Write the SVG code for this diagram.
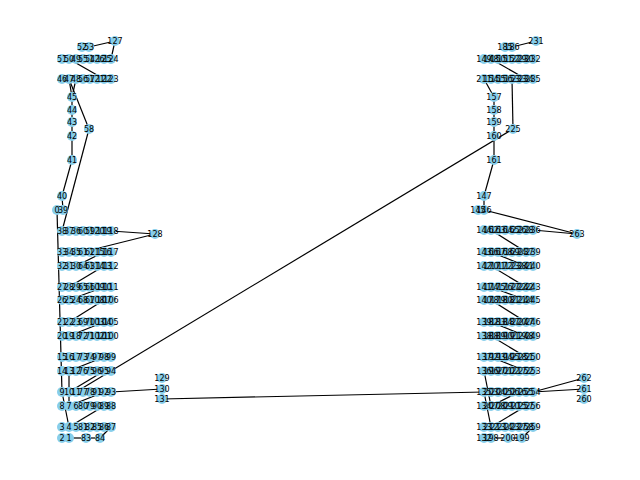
<svg xmlns="http://www.w3.org/2000/svg" width="640" height="480" viewBox="0 0 640 480">
<style>
#nodes circle{fill:#87ceeb;stroke:none}
#edges line{stroke:#000;stroke-width:1.2}
#labels text{font-family:"DejaVu Sans",sans-serif;font-size:8px;fill:#000;text-anchor:middle;dominant-baseline:central}
</style>
<rect width="640" height="480" fill="#fff"/>
<g id="edges">
<line x1="115" y1="41" x2="89" y2="47"/><line x1="115" y1="41" x2="111" y2="59"/>
<line x1="69" y1="59" x2="104" y2="79"/><line x1="72" y1="97" x2="69" y2="79"/><line x1="72" y1="97" x2="76" y2="79"/>
<line x1="89" y1="129" x2="69" y2="79"/><line x1="72" y1="97" x2="72" y2="110"/><line x1="72" y1="110" x2="72" y2="122"/>
<line x1="72" y1="122" x2="72" y2="136"/><line x1="72" y1="136" x2="72" y2="160"/><line x1="72" y1="160" x2="62" y2="196"/>
<line x1="62" y1="196" x2="63" y2="210"/><line x1="89" y1="129" x2="62" y2="231"/><line x1="57" y1="210" x2="62" y2="392"/>
<line x1="155" y1="234" x2="111" y2="231"/><line x1="155" y1="234" x2="83" y2="252"/>
<line x1="76" y1="266" x2="104" y2="252"/><line x1="69" y1="287" x2="104" y2="266"/><line x1="69" y1="300" x2="104" y2="287"/>
<line x1="69" y1="322" x2="104" y2="300"/><line x1="69" y1="336" x2="104" y2="322"/><line x1="69" y1="371" x2="104" y2="357"/>
<line x1="69" y1="392" x2="104" y2="371"/><line x1="69" y1="406" x2="104" y2="392"/><line x1="69" y1="427" x2="104" y2="406"/>
<line x1="111" y1="392" x2="162" y2="389"/><line x1="162" y1="399" x2="484" y2="392"/><line x1="513" y1="129" x2="76" y2="392"/>
<line x1="69" y1="371" x2="69" y2="406"/><line x1="62" y1="392" x2="69" y2="427"/>
<line x1="69" y1="438" x2="86" y2="438"/><line x1="86" y1="438" x2="100" y2="438"/><line x1="100" y1="438" x2="111" y2="427"/>
<line x1="536" y1="41" x2="512" y2="47"/><line x1="491" y1="59" x2="526" y2="79"/><line x1="512" y1="79" x2="513" y2="129"/>
<line x1="484" y1="79" x2="494" y2="97"/><line x1="494" y1="97" x2="494" y2="110"/><line x1="494" y1="110" x2="494" y2="122"/>
<line x1="494" y1="122" x2="494" y2="136"/><line x1="494" y1="136" x2="494" y2="160"/><line x1="494" y1="160" x2="484" y2="196"/>
<line x1="484" y1="196" x2="484" y2="210"/><line x1="484" y1="210" x2="577" y2="234"/><line x1="577" y1="234" x2="533" y2="230"/>
<line x1="491" y1="230" x2="526" y2="252"/><line x1="491" y1="252" x2="526" y2="266"/><line x1="491" y1="266" x2="526" y2="287"/>
<line x1="491" y1="287" x2="526" y2="300"/><line x1="491" y1="300" x2="526" y2="322"/><line x1="491" y1="322" x2="526" y2="336"/>
<line x1="491" y1="336" x2="526" y2="357"/><line x1="491" y1="357" x2="526" y2="371"/>
<line x1="484" y1="371" x2="491" y2="406"/><line x1="484" y1="392" x2="491" y2="427"/>
<line x1="491" y1="406" x2="519" y2="392"/><line x1="491" y1="427" x2="526" y2="406"/>
<line x1="491" y1="438" x2="508" y2="438"/><line x1="508" y1="438" x2="522" y2="438"/><line x1="522" y1="438" x2="533" y2="427"/>
<line x1="584" y1="378" x2="533" y2="392"/><line x1="584" y1="389" x2="533" y2="392"/>
</g>
<g id="nodes">
<g id="n52"><circle cx="82" cy="47" r="5"/></g><g id="n53"><circle cx="89" cy="47" r="5"/></g><g id="n127"><circle cx="115" cy="41" r="5"/></g>
<g id="n51"><circle cx="62" cy="59" r="5"/></g><g id="n50"><circle cx="69" cy="59" r="5"/></g><g id="n49"><circle cx="76" cy="59" r="5"/></g><g id="n55"><circle cx="83" cy="59" r="5"/></g><g id="n54"><circle cx="90" cy="59" r="5"/></g><g id="n126"><circle cx="97" cy="59" r="5"/></g><g id="n125"><circle cx="104" cy="59" r="5"/></g><g id="n124"><circle cx="111" cy="59" r="5"/></g>
<g id="n46"><circle cx="62" cy="79" r="5"/></g><g id="n47"><circle cx="69" cy="79" r="5"/></g><g id="n48"><circle cx="76" cy="79" r="5"/></g><g id="n56"><circle cx="83" cy="79" r="5"/></g><g id="n57"><circle cx="90" cy="79" r="5"/></g><g id="n121"><circle cx="97" cy="79" r="5"/></g><g id="n122"><circle cx="104" cy="79" r="5"/></g><g id="n123"><circle cx="111" cy="79" r="5"/></g>
<g id="n45"><circle cx="72" cy="97" r="5"/></g><g id="n44"><circle cx="72" cy="110" r="5"/></g><g id="n43"><circle cx="72" cy="122" r="5"/></g><g id="n42"><circle cx="72" cy="136" r="5"/></g><g id="n58"><circle cx="89" cy="129" r="5"/></g><g id="n41"><circle cx="72" cy="160" r="5"/></g><g id="n40"><circle cx="62" cy="196" r="5"/></g><g id="n0"><circle cx="57" cy="210" r="5"/></g><g id="n39"><circle cx="63" cy="210" r="5"/></g>
<g id="n38"><circle cx="62" cy="231" r="5"/></g><g id="n37"><circle cx="69" cy="231" r="5"/></g><g id="n36"><circle cx="76" cy="231" r="5"/></g><g id="n60"><circle cx="83" cy="231" r="5"/></g><g id="n59"><circle cx="90" cy="231" r="5"/></g><g id="n120"><circle cx="97" cy="231" r="5"/></g><g id="n119"><circle cx="104" cy="231" r="5"/></g><g id="n118"><circle cx="111" cy="231" r="5"/></g>
<g id="n128"><circle cx="155" cy="234" r="5"/></g>
<g id="n33"><circle cx="62" cy="252" r="5"/></g><g id="n34"><circle cx="69" cy="252" r="5"/></g><g id="n35"><circle cx="76" cy="252" r="5"/></g><g id="n61"><circle cx="83" cy="252" r="5"/></g><g id="n62"><circle cx="90" cy="252" r="5"/></g><g id="n115"><circle cx="97" cy="252" r="5"/></g><g id="n116"><circle cx="104" cy="252" r="5"/></g><g id="n117"><circle cx="111" cy="252" r="5"/></g>
<g id="n32"><circle cx="62" cy="266" r="5"/></g><g id="n31"><circle cx="69" cy="266" r="5"/></g><g id="n30"><circle cx="76" cy="266" r="5"/></g><g id="n64"><circle cx="83" cy="266" r="5"/></g><g id="n63"><circle cx="90" cy="266" r="5"/></g><g id="n114"><circle cx="97" cy="266" r="5"/></g><g id="n113"><circle cx="104" cy="266" r="5"/></g><g id="n112"><circle cx="111" cy="266" r="5"/></g>
<g id="n27"><circle cx="62" cy="287" r="5"/></g><g id="n28"><circle cx="69" cy="287" r="5"/></g><g id="n29"><circle cx="76" cy="287" r="5"/></g><g id="n65"><circle cx="83" cy="287" r="5"/></g><g id="n66"><circle cx="90" cy="287" r="5"/></g><g id="n109"><circle cx="97" cy="287" r="5"/></g><g id="n110"><circle cx="104" cy="287" r="5"/></g><g id="n111"><circle cx="111" cy="287" r="5"/></g>
<g id="n26"><circle cx="62" cy="300" r="5"/></g><g id="n25"><circle cx="69" cy="300" r="5"/></g><g id="n24"><circle cx="76" cy="300" r="5"/></g><g id="n68"><circle cx="83" cy="300" r="5"/></g><g id="n67"><circle cx="90" cy="300" r="5"/></g><g id="n108"><circle cx="97" cy="300" r="5"/></g><g id="n107"><circle cx="104" cy="300" r="5"/></g><g id="n106"><circle cx="111" cy="300" r="5"/></g>
<g id="n21"><circle cx="62" cy="322" r="5"/></g><g id="n22"><circle cx="69" cy="322" r="5"/></g><g id="n23"><circle cx="76" cy="322" r="5"/></g><g id="n69"><circle cx="83" cy="322" r="5"/></g><g id="n70"><circle cx="90" cy="322" r="5"/></g><g id="n103"><circle cx="97" cy="322" r="5"/></g><g id="n104"><circle cx="104" cy="322" r="5"/></g><g id="n105"><circle cx="111" cy="322" r="5"/></g>
<g id="n20"><circle cx="62" cy="336" r="5"/></g><g id="n19"><circle cx="69" cy="336" r="5"/></g><g id="n18"><circle cx="76" cy="336" r="5"/></g><g id="n72"><circle cx="83" cy="336" r="5"/></g><g id="n71"><circle cx="90" cy="336" r="5"/></g><g id="n102"><circle cx="97" cy="336" r="5"/></g><g id="n101"><circle cx="104" cy="336" r="5"/></g><g id="n100"><circle cx="111" cy="336" r="5"/></g>
<g id="n15"><circle cx="62" cy="357" r="5"/></g><g id="n16"><circle cx="69" cy="357" r="5"/></g><g id="n17"><circle cx="76" cy="357" r="5"/></g><g id="n73"><circle cx="83" cy="357" r="5"/></g><g id="n74"><circle cx="90" cy="357" r="5"/></g><g id="n97"><circle cx="97" cy="357" r="5"/></g><g id="n98"><circle cx="104" cy="357" r="5"/></g><g id="n99"><circle cx="111" cy="357" r="5"/></g>
<g id="n14"><circle cx="62" cy="371" r="5"/></g><g id="n13"><circle cx="69" cy="371" r="5"/></g><g id="n12"><circle cx="76" cy="371" r="5"/></g><g id="n76"><circle cx="83" cy="371" r="5"/></g><g id="n75"><circle cx="90" cy="371" r="5"/></g><g id="n96"><circle cx="97" cy="371" r="5"/></g><g id="n95"><circle cx="104" cy="371" r="5"/></g><g id="n94"><circle cx="111" cy="371" r="5"/></g>
<g id="n9"><circle cx="62" cy="392" r="5"/></g><g id="n10"><circle cx="69" cy="392" r="5"/></g><g id="n11"><circle cx="76" cy="392" r="5"/></g><g id="n77"><circle cx="83" cy="392" r="5"/></g><g id="n78"><circle cx="90" cy="392" r="5"/></g><g id="n91"><circle cx="97" cy="392" r="5"/></g><g id="n92"><circle cx="104" cy="392" r="5"/></g><g id="n93"><circle cx="111" cy="392" r="5"/></g>
<g id="n8"><circle cx="62" cy="406" r="5"/></g><g id="n7"><circle cx="69" cy="406" r="5"/></g><g id="n6"><circle cx="76" cy="406" r="5"/></g><g id="n80"><circle cx="83" cy="406" r="5"/></g><g id="n79"><circle cx="90" cy="406" r="5"/></g><g id="n90"><circle cx="97" cy="406" r="5"/></g><g id="n89"><circle cx="104" cy="406" r="5"/></g><g id="n88"><circle cx="111" cy="406" r="5"/></g>
<g id="n3"><circle cx="62" cy="427" r="5"/></g><g id="n4"><circle cx="69" cy="427" r="5"/></g><g id="n5"><circle cx="76" cy="427" r="5"/></g><g id="n81"><circle cx="83" cy="427" r="5"/></g><g id="n82"><circle cx="90" cy="427" r="5"/></g><g id="n85"><circle cx="97" cy="427" r="5"/></g><g id="n86"><circle cx="104" cy="427" r="5"/></g><g id="n87"><circle cx="111" cy="427" r="5"/></g>
<g id="n2"><circle cx="62" cy="438" r="5"/></g><g id="n1"><circle cx="69" cy="438" r="5"/></g><g id="n83"><circle cx="86" cy="438" r="5"/></g><g id="n84"><circle cx="100" cy="438" r="5"/></g>
<g id="n129"><circle cx="162" cy="378" r="5"/></g><g id="n130"><circle cx="162" cy="389" r="5"/></g><g id="n131"><circle cx="162" cy="399" r="5"/></g>
<g id="n185"><circle cx="505" cy="47" r="5"/></g><g id="n186"><circle cx="512" cy="47" r="5"/></g><g id="n231"><circle cx="536" cy="41" r="5"/></g>
<g id="n149"><circle cx="484" cy="59" r="5"/></g><g id="n148"><circle cx="491" cy="59" r="5"/></g><g id="n150"><circle cx="498" cy="59" r="5"/></g><g id="n151"><circle cx="505" cy="59" r="5"/></g><g id="n152"><circle cx="512" cy="59" r="5"/></g><g id="n229"><circle cx="519" cy="59" r="5"/></g><g id="n230"><circle cx="526" cy="59" r="5"/></g><g id="n232"><circle cx="533" cy="59" r="5"/></g>
<g id="n211"><circle cx="484" cy="79" r="5"/></g><g id="n154"><circle cx="491" cy="79" r="5"/></g><g id="n155"><circle cx="498" cy="79" r="5"/></g><g id="n156"><circle cx="505" cy="79" r="5"/></g><g id="n153"><circle cx="512" cy="79" r="5"/></g><g id="n233"><circle cx="519" cy="79" r="5"/></g><g id="n234"><circle cx="526" cy="79" r="5"/></g><g id="n235"><circle cx="533" cy="79" r="5"/></g>
<g id="n157"><circle cx="494" cy="97" r="5"/></g><g id="n158"><circle cx="494" cy="110" r="5"/></g><g id="n159"><circle cx="494" cy="122" r="5"/></g><g id="n160"><circle cx="494" cy="136" r="5"/></g><g id="n225"><circle cx="513" cy="129" r="5"/></g><g id="n161"><circle cx="494" cy="160" r="5"/></g><g id="n147"><circle cx="484" cy="196" r="5"/></g><g id="n145"><circle cx="478" cy="210" r="5"/></g><g id="n146"><circle cx="484" cy="210" r="5"/></g>
<g id="n144"><circle cx="484" cy="230" r="5"/></g><g id="n162"><circle cx="491" cy="230" r="5"/></g><g id="n163"><circle cx="498" cy="230" r="5"/></g><g id="n164"><circle cx="505" cy="230" r="5"/></g><g id="n165"><circle cx="512" cy="230" r="5"/></g><g id="n226"><circle cx="519" cy="230" r="5"/></g><g id="n228"><circle cx="526" cy="230" r="5"/></g><g id="n236"><circle cx="533" cy="230" r="5"/></g>
<g id="n263"><circle cx="577" cy="234" r="5"/></g>
<g id="n143"><circle cx="484" cy="252" r="5"/></g><g id="n166"><circle cx="491" cy="252" r="5"/></g><g id="n167"><circle cx="498" cy="252" r="5"/></g><g id="n168"><circle cx="505" cy="252" r="5"/></g><g id="n169"><circle cx="512" cy="252" r="5"/></g><g id="n224"><circle cx="519" cy="252" r="5"/></g><g id="n237"><circle cx="526" cy="252" r="5"/></g><g id="n239"><circle cx="533" cy="252" r="5"/></g>
<g id="n142"><circle cx="484" cy="266" r="5"/></g><g id="n170"><circle cx="491" cy="266" r="5"/></g><g id="n171"><circle cx="498" cy="266" r="5"/></g><g id="n172"><circle cx="505" cy="266" r="5"/></g><g id="n173"><circle cx="512" cy="266" r="5"/></g><g id="n238"><circle cx="519" cy="266" r="5"/></g><g id="n241"><circle cx="526" cy="266" r="5"/></g><g id="n240"><circle cx="533" cy="266" r="5"/></g>
<g id="n141"><circle cx="484" cy="287" r="5"/></g><g id="n174"><circle cx="491" cy="287" r="5"/></g><g id="n175"><circle cx="498" cy="287" r="5"/></g><g id="n176"><circle cx="505" cy="287" r="5"/></g><g id="n177"><circle cx="512" cy="287" r="5"/></g><g id="n222"><circle cx="519" cy="287" r="5"/></g><g id="n242"><circle cx="526" cy="287" r="5"/></g><g id="n243"><circle cx="533" cy="287" r="5"/></g>
<g id="n140"><circle cx="484" cy="300" r="5"/></g><g id="n178"><circle cx="491" cy="300" r="5"/></g><g id="n179"><circle cx="498" cy="300" r="5"/></g><g id="n180"><circle cx="505" cy="300" r="5"/></g><g id="n181"><circle cx="512" cy="300" r="5"/></g><g id="n221"><circle cx="519" cy="300" r="5"/></g><g id="n244"><circle cx="526" cy="300" r="5"/></g><g id="n245"><circle cx="533" cy="300" r="5"/></g>
<g id="n139"><circle cx="484" cy="322" r="5"/></g><g id="n182"><circle cx="491" cy="322" r="5"/></g><g id="n183"><circle cx="498" cy="322" r="5"/></g><g id="n184"><circle cx="505" cy="322" r="5"/></g><g id="n187"><circle cx="512" cy="322" r="5"/></g><g id="n220"><circle cx="519" cy="322" r="5"/></g><g id="n247"><circle cx="526" cy="322" r="5"/></g><g id="n246"><circle cx="533" cy="322" r="5"/></g>
<g id="n138"><circle cx="484" cy="336" r="5"/></g><g id="n188"><circle cx="491" cy="336" r="5"/></g><g id="n189"><circle cx="498" cy="336" r="5"/></g><g id="n190"><circle cx="505" cy="336" r="5"/></g><g id="n191"><circle cx="512" cy="336" r="5"/></g><g id="n219"><circle cx="519" cy="336" r="5"/></g><g id="n248"><circle cx="526" cy="336" r="5"/></g><g id="n249"><circle cx="533" cy="336" r="5"/></g>
<g id="n137"><circle cx="484" cy="357" r="5"/></g><g id="n192"><circle cx="491" cy="357" r="5"/></g><g id="n193"><circle cx="498" cy="357" r="5"/></g><g id="n194"><circle cx="505" cy="357" r="5"/></g><g id="n195"><circle cx="512" cy="357" r="5"/></g><g id="n218"><circle cx="519" cy="357" r="5"/></g><g id="n251"><circle cx="526" cy="357" r="5"/></g><g id="n250"><circle cx="533" cy="357" r="5"/></g>
<g id="n136"><circle cx="484" cy="371" r="5"/></g><g id="n196"><circle cx="491" cy="371" r="5"/></g><g id="n197"><circle cx="498" cy="371" r="5"/></g><g id="n201"><circle cx="505" cy="371" r="5"/></g><g id="n202"><circle cx="512" cy="371" r="5"/></g><g id="n217"><circle cx="519" cy="371" r="5"/></g><g id="n252"><circle cx="526" cy="371" r="5"/></g><g id="n253"><circle cx="533" cy="371" r="5"/></g>
<g id="n135"><circle cx="484" cy="392" r="5"/></g><g id="n203"><circle cx="491" cy="392" r="5"/></g><g id="n204"><circle cx="498" cy="392" r="5"/></g><g id="n205"><circle cx="505" cy="392" r="5"/></g><g id="n206"><circle cx="512" cy="392" r="5"/></g><g id="n216"><circle cx="519" cy="392" r="5"/></g><g id="n255"><circle cx="526" cy="392" r="5"/></g><g id="n254"><circle cx="533" cy="392" r="5"/></g>
<g id="n134"><circle cx="484" cy="406" r="5"/></g><g id="n207"><circle cx="491" cy="406" r="5"/></g><g id="n208"><circle cx="498" cy="406" r="5"/></g><g id="n209"><circle cx="505" cy="406" r="5"/></g><g id="n210"><circle cx="512" cy="406" r="5"/></g><g id="n215"><circle cx="519" cy="406" r="5"/></g><g id="n257"><circle cx="526" cy="406" r="5"/></g><g id="n256"><circle cx="533" cy="406" r="5"/></g>
<g id="n133"><circle cx="484" cy="427" r="5"/></g><g id="n212"><circle cx="491" cy="427" r="5"/></g><g id="n213"><circle cx="498" cy="427" r="5"/></g><g id="n214"><circle cx="505" cy="427" r="5"/></g><g id="n223"><circle cx="512" cy="427" r="5"/></g><g id="n227"><circle cx="519" cy="427" r="5"/></g><g id="n258"><circle cx="526" cy="427" r="5"/></g><g id="n259"><circle cx="533" cy="427" r="5"/></g>
<g id="n132"><circle cx="484" cy="438" r="5"/></g><g id="n198"><circle cx="491" cy="438" r="5"/></g><g id="n200"><circle cx="508" cy="438" r="5"/></g><g id="n199"><circle cx="522" cy="438" r="5"/></g>
<g id="n262"><circle cx="584" cy="378" r="5"/></g><g id="n261"><circle cx="584" cy="389" r="5"/></g><g id="n260"><circle cx="584" cy="399" r="5"/></g>
</g>
<g id="labels">
<text x="82" y="47">52</text><text x="89" y="47">53</text><text x="115" y="41">127</text>
<text x="62" y="59">51</text><text x="69" y="59">50</text><text x="76" y="59">49</text><text x="83" y="59">55</text><text x="90" y="59">54</text><text x="97" y="59">126</text><text x="104" y="59">125</text><text x="111" y="59">124</text>
<text x="62" y="79">46</text><text x="69" y="79">47</text><text x="76" y="79">48</text><text x="83" y="79">56</text><text x="90" y="79">57</text><text x="97" y="79">121</text><text x="104" y="79">122</text><text x="111" y="79">123</text>
<text x="72" y="97">45</text><text x="72" y="110">44</text><text x="72" y="122">43</text><text x="72" y="136">42</text><text x="89" y="129">58</text><text x="72" y="160">41</text><text x="62" y="196">40</text><text x="57" y="210">0</text><text x="63" y="210">39</text>
<text x="62" y="231">38</text><text x="69" y="231">37</text><text x="76" y="231">36</text><text x="83" y="231">60</text><text x="90" y="231">59</text><text x="97" y="231">120</text><text x="104" y="231">119</text><text x="111" y="231">118</text>
<text x="155" y="234">128</text>
<text x="62" y="252">33</text><text x="69" y="252">34</text><text x="76" y="252">35</text><text x="83" y="252">61</text><text x="90" y="252">62</text><text x="97" y="252">115</text><text x="104" y="252">116</text><text x="111" y="252">117</text>
<text x="62" y="266">32</text><text x="69" y="266">31</text><text x="76" y="266">30</text><text x="83" y="266">64</text><text x="90" y="266">63</text><text x="97" y="266">114</text><text x="104" y="266">113</text><text x="111" y="266">112</text>
<text x="62" y="287">27</text><text x="69" y="287">28</text><text x="76" y="287">29</text><text x="83" y="287">65</text><text x="90" y="287">66</text><text x="97" y="287">109</text><text x="104" y="287">110</text><text x="111" y="287">111</text>
<text x="62" y="300">26</text><text x="69" y="300">25</text><text x="76" y="300">24</text><text x="83" y="300">68</text><text x="90" y="300">67</text><text x="97" y="300">108</text><text x="104" y="300">107</text><text x="111" y="300">106</text>
<text x="62" y="322">21</text><text x="69" y="322">22</text><text x="76" y="322">23</text><text x="83" y="322">69</text><text x="90" y="322">70</text><text x="97" y="322">103</text><text x="104" y="322">104</text><text x="111" y="322">105</text>
<text x="62" y="336">20</text><text x="69" y="336">19</text><text x="76" y="336">18</text><text x="83" y="336">72</text><text x="90" y="336">71</text><text x="97" y="336">102</text><text x="104" y="336">101</text><text x="111" y="336">100</text>
<text x="62" y="357">15</text><text x="69" y="357">16</text><text x="76" y="357">17</text><text x="83" y="357">73</text><text x="90" y="357">74</text><text x="97" y="357">97</text><text x="104" y="357">98</text><text x="111" y="357">99</text>
<text x="62" y="371">14</text><text x="69" y="371">13</text><text x="76" y="371">12</text><text x="83" y="371">76</text><text x="90" y="371">75</text><text x="97" y="371">96</text><text x="104" y="371">95</text><text x="111" y="371">94</text>
<text x="62" y="392">9</text><text x="69" y="392">10</text><text x="76" y="392">11</text><text x="83" y="392">77</text><text x="90" y="392">78</text><text x="97" y="392">91</text><text x="104" y="392">92</text><text x="111" y="392">93</text>
<text x="62" y="406">8</text><text x="69" y="406">7</text><text x="76" y="406">6</text><text x="83" y="406">80</text><text x="90" y="406">79</text><text x="97" y="406">90</text><text x="104" y="406">89</text><text x="111" y="406">88</text>
<text x="62" y="427">3</text><text x="69" y="427">4</text><text x="76" y="427">5</text><text x="83" y="427">81</text><text x="90" y="427">82</text><text x="97" y="427">85</text><text x="104" y="427">86</text><text x="111" y="427">87</text>
<text x="62" y="438">2</text><text x="69" y="438">1</text><text x="86" y="438">83</text><text x="100" y="438">84</text>
<text x="162" y="378">129</text><text x="162" y="389">130</text><text x="162" y="399">131</text>
<text x="505" y="47">185</text><text x="512" y="47">186</text><text x="536" y="41">231</text>
<text x="484" y="59">149</text><text x="491" y="59">148</text><text x="498" y="59">150</text><text x="505" y="59">151</text><text x="512" y="59">152</text><text x="519" y="59">229</text><text x="526" y="59">230</text><text x="533" y="59">232</text>
<text x="484" y="79">211</text><text x="491" y="79">154</text><text x="498" y="79">155</text><text x="505" y="79">156</text><text x="512" y="79">153</text><text x="519" y="79">233</text><text x="526" y="79">234</text><text x="533" y="79">235</text>
<text x="494" y="97">157</text><text x="494" y="110">158</text><text x="494" y="122">159</text><text x="494" y="136">160</text><text x="513" y="129">225</text><text x="494" y="160">161</text><text x="484" y="196">147</text><text x="478" y="210">145</text><text x="484" y="210">146</text>
<text x="484" y="230">144</text><text x="491" y="230">162</text><text x="498" y="230">163</text><text x="505" y="230">164</text><text x="512" y="230">165</text><text x="519" y="230">226</text><text x="526" y="230">228</text><text x="533" y="230">236</text>
<text x="577" y="234">263</text>
<text x="484" y="252">143</text><text x="491" y="252">166</text><text x="498" y="252">167</text><text x="505" y="252">168</text><text x="512" y="252">169</text><text x="519" y="252">224</text><text x="526" y="252">237</text><text x="533" y="252">239</text>
<text x="484" y="266">142</text><text x="491" y="266">170</text><text x="498" y="266">171</text><text x="505" y="266">172</text><text x="512" y="266">173</text><text x="519" y="266">238</text><text x="526" y="266">241</text><text x="533" y="266">240</text>
<text x="484" y="287">141</text><text x="491" y="287">174</text><text x="498" y="287">175</text><text x="505" y="287">176</text><text x="512" y="287">177</text><text x="519" y="287">222</text><text x="526" y="287">242</text><text x="533" y="287">243</text>
<text x="484" y="300">140</text><text x="491" y="300">178</text><text x="498" y="300">179</text><text x="505" y="300">180</text><text x="512" y="300">181</text><text x="519" y="300">221</text><text x="526" y="300">244</text><text x="533" y="300">245</text>
<text x="484" y="322">139</text><text x="491" y="322">182</text><text x="498" y="322">183</text><text x="505" y="322">184</text><text x="512" y="322">187</text><text x="519" y="322">220</text><text x="526" y="322">247</text><text x="533" y="322">246</text>
<text x="484" y="336">138</text><text x="491" y="336">188</text><text x="498" y="336">189</text><text x="505" y="336">190</text><text x="512" y="336">191</text><text x="519" y="336">219</text><text x="526" y="336">248</text><text x="533" y="336">249</text>
<text x="484" y="357">137</text><text x="491" y="357">192</text><text x="498" y="357">193</text><text x="505" y="357">194</text><text x="512" y="357">195</text><text x="519" y="357">218</text><text x="526" y="357">251</text><text x="533" y="357">250</text>
<text x="484" y="371">136</text><text x="491" y="371">196</text><text x="498" y="371">197</text><text x="505" y="371">201</text><text x="512" y="371">202</text><text x="519" y="371">217</text><text x="526" y="371">252</text><text x="533" y="371">253</text>
<text x="484" y="392">135</text><text x="491" y="392">203</text><text x="498" y="392">204</text><text x="505" y="392">205</text><text x="512" y="392">206</text><text x="519" y="392">216</text><text x="526" y="392">255</text><text x="533" y="392">254</text>
<text x="484" y="406">134</text><text x="491" y="406">207</text><text x="498" y="406">208</text><text x="505" y="406">209</text><text x="512" y="406">210</text><text x="519" y="406">215</text><text x="526" y="406">257</text><text x="533" y="406">256</text>
<text x="484" y="427">133</text><text x="491" y="427">212</text><text x="498" y="427">213</text><text x="505" y="427">214</text><text x="512" y="427">223</text><text x="519" y="427">227</text><text x="526" y="427">258</text><text x="533" y="427">259</text>
<text x="484" y="438">132</text><text x="491" y="438">198</text><text x="508" y="438">200</text><text x="522" y="438">199</text>
<text x="584" y="378">262</text><text x="584" y="389">261</text><text x="584" y="399">260</text>
</g>
</svg>
